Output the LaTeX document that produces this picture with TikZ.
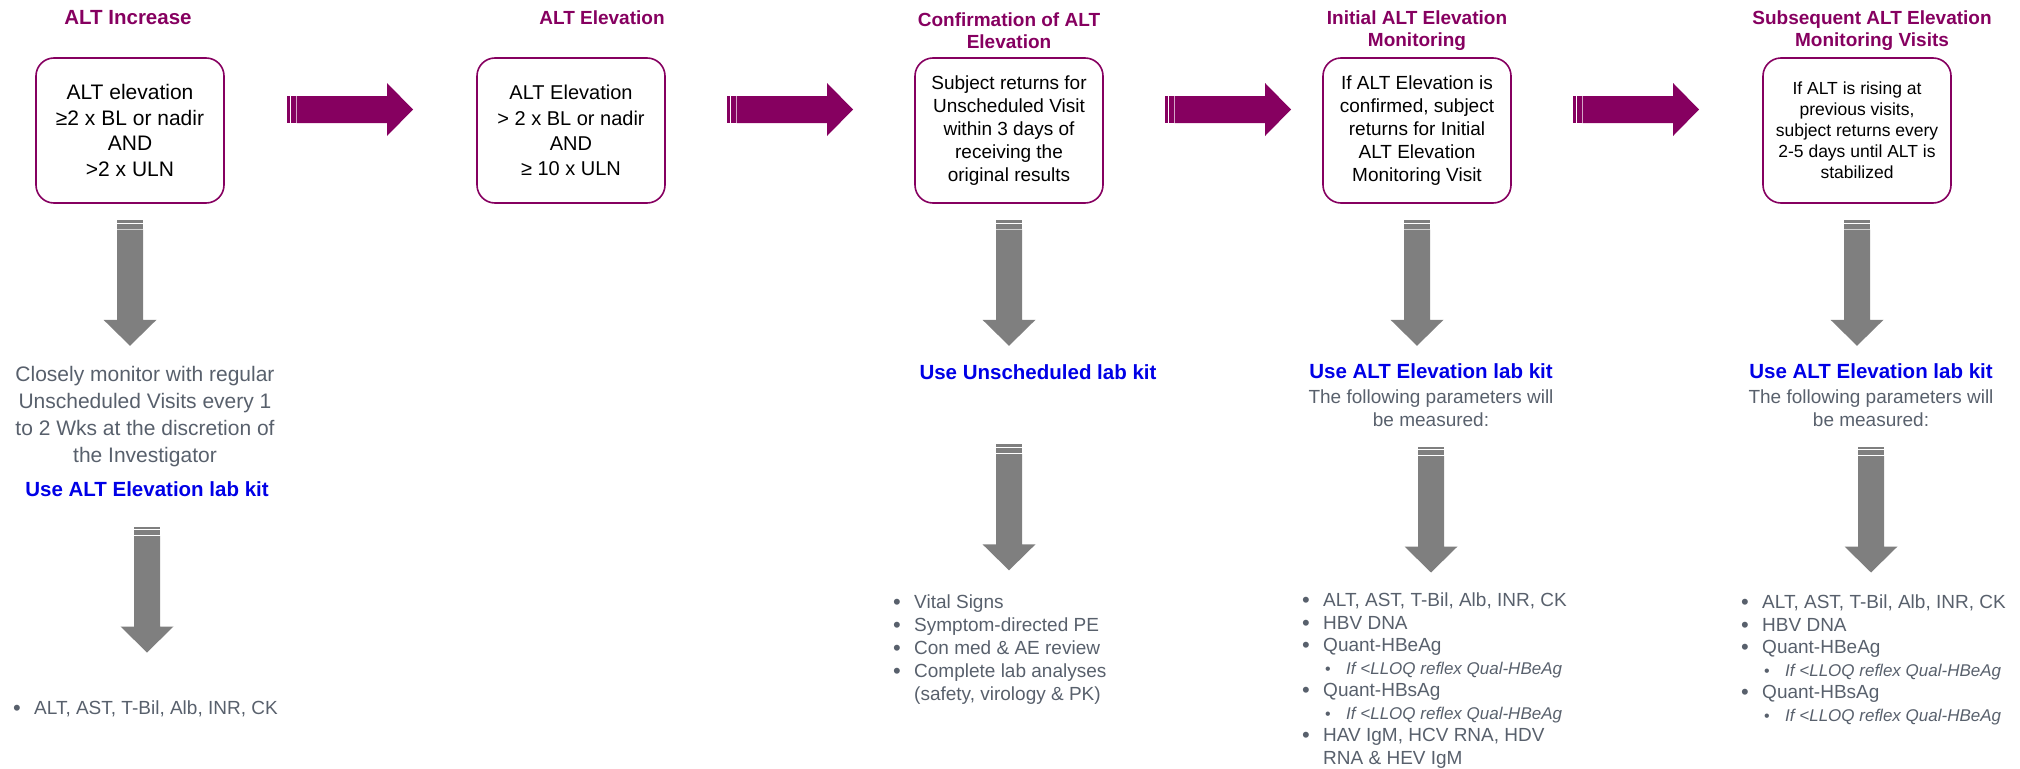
\documentclass[tikz,border=0pt]{standalone}
\usepackage{fontspec}
\setmainfont{Liberation Sans}
\usetikzlibrary{calc}
\definecolor{altpurple}{RGB}{134,0,96}
\definecolor{arrowgray}{RGB}{127,127,127}
\definecolor{notegray}{RGB}{88,96,108}
\definecolor{kitblue}{RGB}{0,0,230}
\newcommand{\lbul}{\makebox[21pt][l]{\raisebox{-1pt}{\fontsize{22}{22}\selectfont\textbullet}}}
\newcommand{\sbul}{\hspace*{23pt}\makebox[21pt][l]{\raisebox{-0.5pt}{\fontsize{16}{16}\selectfont\textbullet}}}
\newcommand{\reflexitem}[1]{\sbul{\fontsize{17}{20}\selectfont\itshape #1}}

\begin{document}
\begin{tikzpicture}[x=1pt,y=-1pt,
  critbox/.style={draw=altpurple,line width=1.6pt,rounded corners=18pt,minimum width=188pt,minimum height=145pt,align=center,inner sep=0pt},
  phase/.style={text=altpurple,font=\fontsize{19}{22}\selectfont\bfseries,align=center},
  kit/.style={text=kitblue,font=\fontsize{20.5}{24}\selectfont\bfseries,inner sep=0pt},
  note/.style={text=notegray,align=center,inner sep=0pt},
  checks/.style={text=notegray,align=left,anchor=north west,inner sep=0pt,font=\fontsize{19}{22.5}\selectfont}]
\tikzset{
  rarrow/.pic={
    \fill[altpurple] (-63,-13.5) rectangle (-60.3,13.5);
    \fill[altpurple] (-59.3,-13.5) rectangle (-54.3,13.5);
    \fill[altpurple] (-53.3,-13.5) -- (37,-13.5) -- (37,-26.5) -- (63,0) -- (37,26.5) -- (37,13.5) -- (-53.3,13.5) -- cycle;
  },
  darrow/.pic={
    \fill[arrowgray] (-13,-63) rectangle (13,-60.3);
    \fill[arrowgray] (-13,-59.3) rectangle (13,-54.3);
    \fill[arrowgray] (-13,-53.3) -- (-13,37) -- (-26.5,37) -- (0,63) -- (26.5,37) -- (13,37) -- (13,-53.3) -- cycle;
  }
}
\useasboundingbox (0,0) rectangle (2020,768);

\node[phase,font=\fontsize{20.5}{22}\selectfont\bfseries] (t1) at (128,18) {ALT Increase};
\node[phase] (t2) at (602,18) {ALT Elevation};
\node[phase] (t3) at (1009,30.5) {Confirmation of ALT\\Elevation};
\node[phase] (t4) at (1417,30.5) {Initial ALT Elevation\\Monitoring};
\node[phase] (t5) at (1872,30.5) {Subsequent ALT Elevation\\Monitoring Visits};

\node[critbox,font=\fontsize{21}{25.5}\selectfont] (b1) at (130,130.5) {ALT elevation\\≥2 x BL or nadir\\AND\\>2 x ULN};
\node[critbox,font=\fontsize{20}{25.3}\selectfont] (b2) at (571,130.5) {ALT Elevation\\> 2 x BL or nadir\\AND\\≥ 10 x ULN};
\node[critbox,font=\fontsize{19}{23}\selectfont] (b3) at (1009,130.5) {Subject returns for\\Unscheduled Visit\\within 3 days of\\receiving the\\original results};
\node[critbox,font=\fontsize{19}{23}\selectfont] (b4) at (1417,130.5) {If ALT Elevation is\\confirmed, subject\\returns for Initial\\ALT Elevation\\Monitoring Visit};
\node[critbox,font=\fontsize{17.5}{21}\selectfont] (b5) at (1857,130.5) {If ALT is rising at\\previous visits,\\subject returns every\\2-5 days until ALT is\\stabilized};

\pic at (350,109.5) {rarrow};
\pic at (790,109.5) {rarrow};
\pic at (1228,109.5) {rarrow};
\pic at (1636,109.5) {rarrow};

\pic at ($(b1.south)+(0,79)$) {darrow};
\pic at ($(b3.south)+(0,79)$) {darrow};
\pic at ($(b4.south)+(0,79)$) {darrow};
\pic at ($(b5.south)+(0,79)$) {darrow};

\node[note,font=\fontsize{21}{27}\selectfont] (n1) at (145,417) {Closely monitor with regular\\Unscheduled Visits every 1\\to 2 Wks at the discretion of\\the Investigator};
\node[kit] (k1) at (147,489) {Use ALT Elevation lab kit};
\node[kit] (k3) at (1038,372) {Use Unscheduled lab kit};
\node[kit] (k4) at (1431,371) {Use ALT Elevation lab kit};
\node[kit] (k5) at (1871,371) {Use ALT Elevation lab kit};
\node[note,font=\fontsize{19}{23}\selectfont] (n4) at (1431,408) {The following parameters will\\be measured:};
\node[note,font=\fontsize{19}{23}\selectfont] (n5) at (1871,408) {The following parameters will\\be measured:};

\pic at ($(k1.center)+(0,100.5)$) {darrow};
\pic at ($(b3.south)+(0,303.5)$) {darrow};
\pic at ($(n4.center)+(0,101.5)$) {darrow};
\pic at ($(n5.center)+(0,101.5)$) {darrow};

\node[checks] (c1) at (13,701) {\lbul ALT, AST, T-Bil, Alb, INR, CK};
\node[checks,font=\fontsize{19}{23}\selectfont] (c3) at (893,595) {\lbul Vital Signs\\\lbul Symptom-directed PE\\\lbul Con med \& AE review\\\lbul Complete lab analyses\\\hspace*{21pt}(safety, virology \& PK)};
\node[checks] (c4) at (1302,593) {\lbul ALT, AST, T-Bil, Alb, INR, CK\\\lbul HBV DNA\\\lbul Quant-HBeAg\\\reflexitem{If <LLOQ reflex Qual-HBeAg}\\\lbul Quant-HBsAg\\\reflexitem{If <LLOQ reflex Qual-HBeAg}\\\lbul HAV IgM, HCV RNA, HDV\\\hspace*{21pt}RNA \& HEV IgM};
\node[checks] (c5) at (1741,595) {\lbul ALT, AST, T-Bil, Alb, INR, CK\\\lbul HBV DNA\\\lbul Quant-HBeAg\\\reflexitem{If <LLOQ reflex Qual-HBeAg}\\\lbul Quant-HBsAg\\\reflexitem{If <LLOQ reflex Qual-HBeAg}};
\end{tikzpicture}
\end{document}
